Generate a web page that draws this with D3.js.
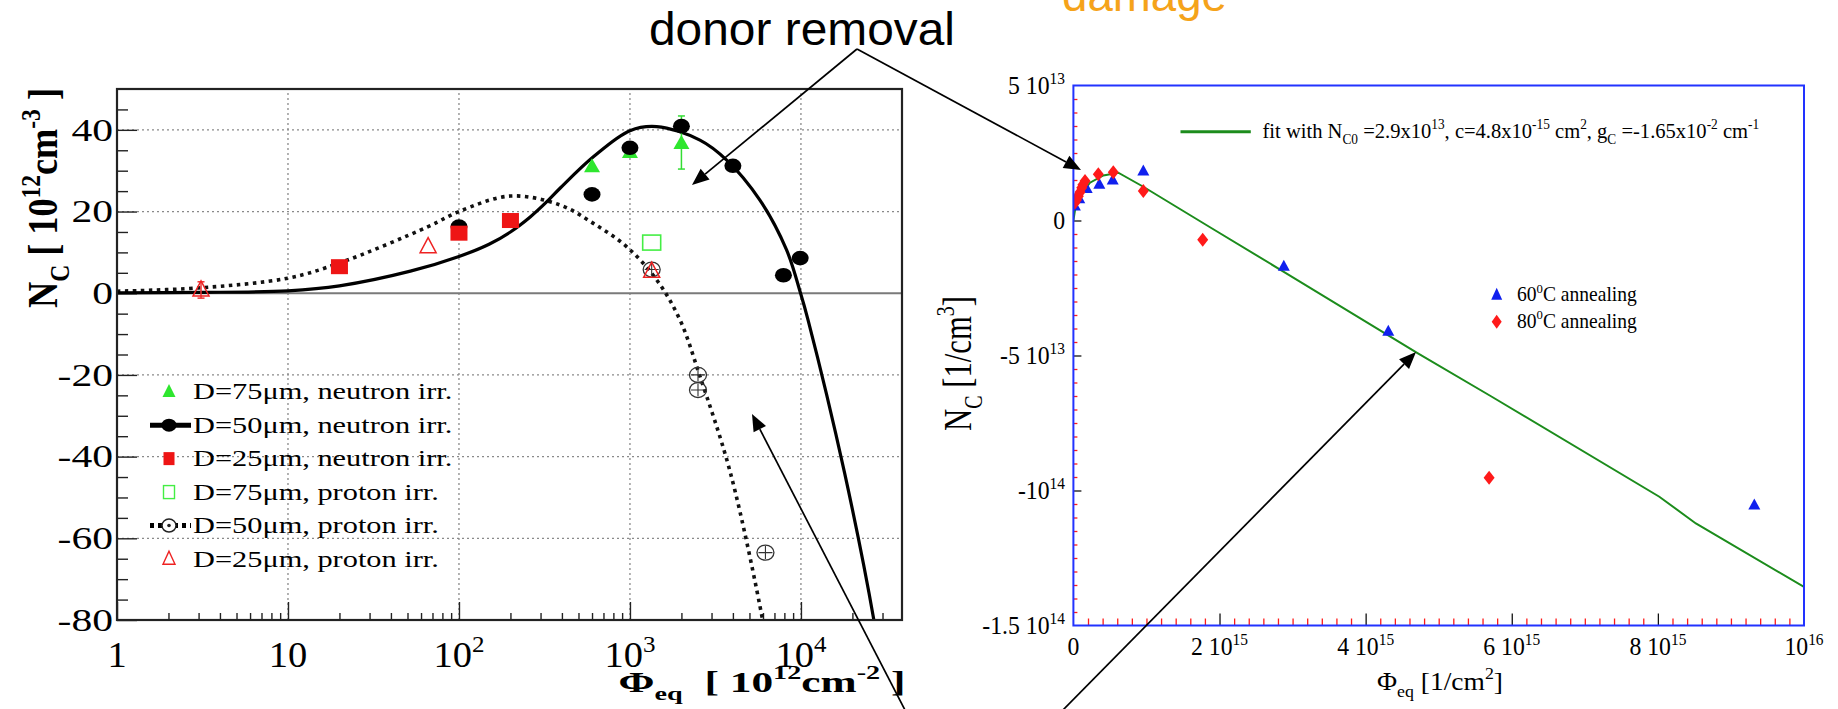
<!DOCTYPE html>
<html>
<head>
<meta charset="utf-8">
<script src="https://cdn.jsdelivr.net/npm/d3@7"></script>
<style>
  html,body{margin:0;padding:0;background:#fff;}
  svg{display:block;}
  text{white-space:pre;}
</style>
</head>
<body>
<div id="fig"></div>
<script>
// two panels: N_C vs fluence, log axis on the left, linear on the right

const SERIF = "'Liberation Serif','Times New Roman',serif";
const SANS  = "'Liberation Sans',Arial,sans-serif";

// ---- left panel: N_C [10^12 cm^-3] vs Phi_eq [10^12 cm^-2]
const LX_TICKS = [1, 10, 100, 1000, 10000];
const LX_BASE  = ["1", "10", "10", "10", "10"];
const LX_EXP   = ["", "", "2", "3", "4"];
const LY_TICKS = [40, 20, 0, -20, -40, -60, -80];
const LY_LABELS = ["40", "20", "0", "-20", "-40", "-60", "-80"];

const N75 = [[600, 31.0], [1000, 34.5], [2000, 36.7]];
const N75_ERR = [[2000, 30.4, 43.4]];
const N50 = [[100, 16.3], [600, 24.2], [1000, 35.6], [2000, 40.9], [4000, 31.2], [7900, 4.4], [9900, 8.6]];
const N25 = [[20, 6.5], [100, 14.7], [200, 17.8]];
const P75 = [[1340, 12.4]];
const P50 = [[1340, 5.8], [2500, -20.0], [2500, -23.7], [6200, -63.5]];
const P25 = [[3.1, 0.8], [66, 11.4], [1340, 5.4]];
const P25_ERR = [[3.1, -1.2, 2.8]];

const FIT_NEUTRON = [[1,0.1],[3,0.2],[10,0.6],[20,1.8],[52,5.4],[100,9.0],[150,12.0],[200,15.0],[260,18.6],
  [321,22.1],[390,25.7],[611,33.4],[1000,39.8],[1432,40.8],[2566,37.5],[3680,32.6],[5755,22.8],[8240,10.6],
  [9950,0],[11000,-6.5],[18000,-44],[26700,-80],[29000,-90]];
const FIT_PROTON = [[1,0.5],[3,1.3],[10,3.7],[20,7.4],[66,16.3],[100,20.0],[200,23.8],[390,21.6],[611,17.1],
  [955,11.4],[1432,3.3],[1960,-6.5],[2550,-20],[3870,-44],[5970,-80],[6400,-88]];

const LEGEND_L = ["D=75μm, neutron irr.", "D=50μm, neutron irr.", "D=25μm, neutron irr.",
                  "D=75μm, proton irr.", "D=50μm, proton irr.", "D=25μm, proton irr."];

// ---- right panel: N_C [1/cm^3] vs Phi_eq [1/cm^2]
const RX_TICKS = [0, 2e15, 4e15, 6e15, 8e15, 1e16];
const RX_BASE  = ["0", "2 10", "4 10", "6 10", "8 10", "10"];
const RX_EXP   = ["", "15", "15", "15", "15", "16"];
const RY_TICKS = [5e13, 0, -5e13, -1e14, -1.5e14];
const RY_BASE  = ["5 10", "0", "-5 10", "-10", "-1.5 10"];
const RY_EXP   = ["13", "", "13", "14", "14"];

const ANN60 = [[2e13,5.3e12],[8e13,8.0e12],[1.82e14,1.18e13],[3.55e14,1.34e13],[5.38e14,1.5e13],
  [9.57e14,1.83e13],[2.88e15,-1.70e13],[4.31e15,-4.11e13],[9.32e15,-1.054e14]];
const ANN80 = [[2e13,6.6e12],[4e13,7.6e12],[6.7e13,9.0e12],[9e13,1.05e13],[1.14e14,1.21e13],[1.3e14,1.32e13],
  [1.59e14,1.46e13],[3.41e14,1.71e13],[5.46e14,1.79e13],[9.57e14,1.09e13],[1.77e15,-7.1e12],[5.69e15,-9.53e13]];
const FIT_R = [[0,0],[2e13,3.5e12],[6.7e13,7.8e12],[1.4e14,1.1e13],[2.27e14,1.4e13],[4.1e14,1.67e13],
  [6.15e14,1.77e13],[9.57e14,1.25e13],[1.87e15,-2.5e12],[2.88e15,-1.9e13],[4.71e15,-4.91e13],
  [5.71e15,-6.5e13],[8.02e15,-1.023e14],[8.52e15,-1.122e14],[1e16,-1.357e14]];

const LEGEND_R = ["60", "80"];

// ---------------------------------------------------------------
const svg = d3.select("#fig").append("svg").attr("width", 1838).attr("height", 709);
const defs = svg.append("defs");

// text with sub/superscript parts
function rich(g, parts, size, opts) {
  opts = opts || {};
  const t = g.append("text").attr("text-anchor", opts.anchor || "start")
    .style("font-family", opts.family || SERIF).style("font-size", size + "px")
    .attr("fill", opts.fill || "#000");
  if (opts.weight) t.style("font-weight", opts.weight);
  let shift = 0;
  parts.forEach(p => {
    const [str, kind] = Array.isArray(p) ? p : [p, ""];
    const sp = t.append("tspan").text(str);
    const target = kind === "sup" ? -size * 0.42 : kind === "sub" ? size * 0.28 : 0;
    if (kind) sp.style("font-size", (size * 0.65) + "px");
    if (target !== shift) sp.attr("dy", target - shift);
    shift = target;
  });
  return t;
}
function place(t, x, y, sx, sy, rot) {
  t.attr("transform", `translate(${x},${y})${rot ? ` rotate(${rot})` : ""} scale(${sx},${sy || 1})`);
  return t;
}
const widthOf = t => t.node().getBBox().width;

const triPath  = (w, h) => `M0,${-h * 0.6}L${w / 2},${h * 0.4}L${-w / 2},${h * 0.4}Z`;
const diaPath  = (w, h) => `M0,${-h / 2}L${w / 2},0L0,${h / 2}L${-w / 2},0Z`;

// ================= LEFT PANEL =================
const lx = d3.scaleLog().domain([1, 3.9e4]).range([117, 902]);
const ly = d3.scaleLinear().domain([-80, 50]).range([620, 89]);
const L = svg.append("g");

defs.append("clipPath").attr("id", "clipL").append("rect")
  .attr("x", lx.range()[0]).attr("y", ly.range()[1])
  .attr("width", lx.range()[1] - lx.range()[0]).attr("height", ly.range()[0] - ly.range()[1]);

// grid
L.append("g").selectAll("line").data(LX_TICKS.slice(1)).join("line")
  .attr("x1", d => lx(d)).attr("x2", d => lx(d)).attr("y1", ly(-80)).attr("y2", ly(50))
  .attr("stroke", "#8a8a8a").attr("stroke-width", 1.3).attr("stroke-dasharray", "2,3");
L.append("g").selectAll("line").data(LY_TICKS.filter(d => d !== 0 && d !== -80)).join("line")
  .attr("x1", lx(1)).attr("x2", lx(3.9e4)).attr("y1", d => ly(d)).attr("y2", d => ly(d))
  .attr("stroke", "#8a8a8a").attr("stroke-width", 1.3).attr("stroke-dasharray", "2,3");
L.append("line").attr("x1", lx(1)).attr("x2", lx(3.9e4)).attr("y1", ly(0)).attr("y2", ly(0))
  .attr("stroke", "#7a7a7a").attr("stroke-width", 2);

// ticks
const minorX = [];
LX_TICKS.forEach(d => { for (let m = 2; m < 10; m++) if (d * m < 3.9e4) minorX.push(d * m); });
const tickStyle = s => s.call(a => a.select(".domain").remove())
  .call(a => a.selectAll("line").attr("stroke", "#222").attr("stroke-width", 1.4));
L.append("g").attr("transform", `translate(0,${ly(-80)})`)
  .call(d3.axisBottom(lx).tickValues(minorX).tickSize(-7).tickFormat("")).call(tickStyle);
L.append("g").attr("transform", `translate(0,${ly(-80)})`)
  .call(d3.axisBottom(lx).tickValues(LX_TICKS).tickSize(-18).tickFormat("")).call(tickStyle);
const minorY = d3.range(-75, 50, 5).filter(d => d % 20 !== 0);
L.append("g").attr("transform", `translate(${lx(1)},0)`)
  .call(d3.axisLeft(ly).tickValues(minorY).tickSize(-11).tickFormat("")).call(tickStyle);
L.append("g").attr("transform", `translate(${lx(1)},0)`)
  .call(d3.axisLeft(ly).tickValues(LY_TICKS).tickSize(-20).tickFormat("")).call(tickStyle);

// tick labels
LX_TICKS.forEach((v, i) => {
  const parts = LX_EXP[i] ? [LX_BASE[i], [LX_EXP[i], "sup"]] : [LX_BASE[i]];
  place(rich(L, parts, 35, { anchor: "middle" }), lx(v), 667, 1.1);
});
LY_TICKS.forEach((v, i) => {
  place(rich(L, [LY_LABELS[i]], 32, { anchor: "end" }), 113, ly(v) + 10.8, 1.3);
});

// axis titles
const lxt = rich(L, ["Φ", ["eq", "sub"], "  [ 10", ["12", "sup"], "cm", ["-2", "sup"], " ]"], 30,
  { anchor: "middle", weight: "bold" });
place(lxt, 762, 692, 287 / widthOf(lxt));
const lyt = rich(L, ["N", ["C", "sub"], " [ 10", ["12", "sup"], "cm", ["-3", "sup"], " ]"], 32,
  { anchor: "middle", weight: "bold" });
place(lyt, 57, 198, 220 / widthOf(lyt), 1.3, -90);

// fit curves
const lline = d3.line().x(d => lx(d[0])).y(d => ly(d[1])).curve(d3.curveCatmullRom.alpha(0.5));
const LC = L.append("g").attr("clip-path", "url(#clipL)");
LC.append("path").datum(FIT_PROTON).attr("d", lline).attr("fill", "none")
  .attr("stroke", "#111").attr("stroke-width", 3.6).attr("stroke-dasharray", "3.5,4.5");
LC.append("path").datum(FIT_NEUTRON).attr("d", lline).attr("fill", "none")
  .attr("stroke", "#000").attr("stroke-width", 3.2);

// error bars
function errBars(g, data, color) {
  data.forEach(([x, lo, hi]) => {
    g.append("line").attr("x1", lx(x)).attr("x2", lx(x)).attr("y1", ly(lo)).attr("y2", ly(hi))
      .attr("stroke", color).attr("stroke-width", 1.5);
    [lo, hi].forEach(v => g.append("line").attr("x1", lx(x) - 3.5).attr("x2", lx(x) + 3.5)
      .attr("y1", ly(v)).attr("y2", ly(v)).attr("stroke", color).attr("stroke-width", 1.5));
  });
}
errBars(LC, N75_ERR, "#33dd33");
errBars(LC, P25_ERR, "#ee3333");

// markers
const GREEN = "#2ee62e", RED = "#ee1515";
LC.selectAll("path.n75").data(N75).join("path").attr("class", "n75")
  .attr("transform", d => `translate(${lx(d[0])},${ly(d[1])})`).attr("d", triPath(16, 14)).attr("fill", GREEN);
LC.selectAll("ellipse.n50").data(N50).join("ellipse").attr("class", "n50")
  .attr("cx", d => lx(d[0])).attr("cy", d => ly(d[1])).attr("rx", 8.5).attr("ry", 7.3).attr("fill", "#000");
LC.selectAll("rect.n25").data(N25).join("rect").attr("class", "n25")
  .attr("x", d => lx(d[0]) - 8.5).attr("y", d => ly(d[1]) - 7.5).attr("width", 17).attr("height", 15).attr("fill", RED);
LC.selectAll("rect.p75").data(P75).join("rect").attr("class", "p75")
  .attr("x", d => lx(d[0]) - 9).attr("y", d => ly(d[1]) - 7.5).attr("width", 18).attr("height", 15)
  .attr("fill", "none").attr("stroke", "#44ee44").attr("stroke-width", 1.6);
const p50g = LC.selectAll("g.p50").data(P50).join("g").attr("class", "p50")
  .attr("transform", d => `translate(${lx(d[0])},${ly(d[1])})`);
p50g.append("ellipse").attr("rx", 8.5).attr("ry", 7.5).attr("fill", "none").attr("stroke", "#333").attr("stroke-width", 1.3);
p50g.append("path").attr("d", "M-7,0H7M0,-6.5V6.5").attr("stroke", "#333").attr("stroke-width", 1.1);
LC.selectAll("path.p25").data(P25).join("path").attr("class", "p25")
  .attr("transform", d => `translate(${lx(d[0])},${ly(d[1])})`).attr("d", triPath(16, 15))
  .attr("fill", "none").attr("stroke", "#ee2222").attr("stroke-width", 1.5);

// legend
const legY = d3.scaleLinear().domain([0, 5]).range([391.7, 559]);
const LG = L.append("g");
LEGEND_L.forEach((s, i) => {
  place(rich(LG, [s], 23), 193, legY(i) + 7.5, 1.32);
});
const lk = 169;
LG.append("path").attr("transform", `translate(${lk},${legY(0)})`).attr("d", triPath(13, 13)).attr("fill", GREEN);
LG.append("line").attr("x1", 150).attr("x2", 191).attr("y1", legY(1)).attr("y2", legY(1)).attr("stroke", "#000").attr("stroke-width", 5);
LG.append("ellipse").attr("cx", lk).attr("cy", legY(1)).attr("rx", 7.5).attr("ry", 6.5).attr("fill", "#000");
LG.append("rect").attr("x", lk - 5.5).attr("y", legY(2) - 6.5).attr("width", 11).attr("height", 13).attr("fill", RED);
LG.append("rect").attr("x", lk - 5.5).attr("y", legY(3) - 6.5).attr("width", 11).attr("height", 13)
  .attr("fill", "none").attr("stroke", "#44ee44").attr("stroke-width", 1.4);
LG.append("line").attr("x1", 150).attr("x2", 191).attr("y1", legY(4)).attr("y2", legY(4))
  .attr("stroke", "#000").attr("stroke-width", 5).attr("stroke-dasharray", "4,4");
LG.append("ellipse").attr("cx", lk).attr("cy", legY(4)).attr("rx", 7).attr("ry", 6.5)
  .attr("fill", "#fff").attr("stroke", "#222").attr("stroke-width", 1.5);
LG.append("circle").attr("cx", lk).attr("cy", legY(4)).attr("r", 1.8).attr("fill", "#222");
LG.append("path").attr("transform", `translate(${lk},${legY(5)})`).attr("d", triPath(12, 13))
  .attr("fill", "none").attr("stroke", "#ee2222").attr("stroke-width", 1.4);

// frame
L.append("rect").attr("x", lx(1)).attr("y", ly(50)).attr("width", lx(3.9e4) - lx(1)).attr("height", ly(-80) - ly(50))
  .attr("fill", "none").attr("stroke", "#222").attr("stroke-width", 2.2);

// ================= RIGHT PANEL =================
const rx = d3.scaleLinear().domain([0, 1e16]).range([1073.4, 1804]);
const ry = d3.scaleLinear().domain([-1.5e14, 5e13]).range([625.5, 85.5]);
const R = svg.append("g");

defs.append("clipPath").attr("id", "clipR").append("rect")
  .attr("x", rx.range()[0]).attr("y", ry.range()[1])
  .attr("width", rx.range()[1] - rx.range()[0]).attr("height", ry.range()[0] - ry.range()[1]);

// minor red ticks
const rMinorX = d3.range(2e14, 1e16, 2e14).filter(d => Math.abs(d / 2e15 - Math.round(d / 2e15)) > 1e-6);
const rMinorY = d3.range(-1.45e14, 5e13, 5e12).filter(d => Math.abs(d / 5e13 - Math.round(d / 5e13)) > 1e-6);
const redTicks = s => s.call(a => a.select(".domain").remove())
  .call(a => a.selectAll("line").attr("stroke", "#ff1a1a").attr("stroke-width", 1.3));
const blackTicks = s => s.call(a => a.select(".domain").remove())
  .call(a => a.selectAll("line").attr("stroke", "#111").attr("stroke-width", 1.3));
R.append("g").attr("transform", `translate(0,${ry(-1.5e14)})`)
  .call(d3.axisBottom(rx).tickValues(rMinorX).tickSize(-7).tickFormat("")).call(redTicks);
R.append("g").attr("transform", `translate(0,${ry(-1.5e14)})`)
  .call(d3.axisBottom(rx).tickValues(RX_TICKS.slice(1, -1)).tickSize(-12).tickFormat("")).call(blackTicks);
R.append("g").attr("transform", `translate(${rx(0)},0)`)
  .call(d3.axisLeft(ry).tickValues(rMinorY).tickSize(-4).tickFormat("")).call(redTicks);
R.append("g").attr("transform", `translate(${rx(0)},0)`)
  .call(d3.axisLeft(ry).tickValues(RY_TICKS.slice(1, -1)).tickSize(-8).tickFormat("")).call(blackTicks);

// tick labels
RX_TICKS.forEach((v, i) => {
  const parts = RX_EXP[i] ? [RX_BASE[i], [RX_EXP[i], "sup"]] : [RX_BASE[i]];
  place(rich(R, parts, 25, { anchor: "middle" }), rx(v), 655, 0.95);
});
RY_TICKS.forEach((v, i) => {
  const parts = RY_EXP[i] ? [RY_BASE[i], [RY_EXP[i], "sup"]] : [RY_BASE[i]];
  place(rich(R, parts, 25, { anchor: "end" }), 1065, ry(v) + 8.5, 0.95);
});

// axis titles
const rxt = rich(R, ["Φ", ["eq", "sub"], " [1/cm", ["2", "sup"], "]"], 26, { anchor: "middle" });
place(rxt, 1440, 690, 126 / widthOf(rxt));
const ryt = rich(R, ["N", ["C", "sub"], " [1/cm", ["3", "sup"], "]"], 30, { anchor: "middle" });
place(ryt, 971, 363.5, 135 / widthOf(ryt), 1.34, -90);

// fit line + data
const RC = R.append("g").attr("clip-path", "url(#clipR)");
const rline = d3.line().x(d => rx(d[0])).y(d => ry(d[1]));
RC.append("path").datum(FIT_R).attr("d", rline).attr("fill", "none")
  .attr("stroke", "#1c8c1c").attr("stroke-width", 2);
const BLUE = "#1020ee", RDIA = "#ff1a1a";
RC.selectAll("path.a60").data(ANN60).join("path").attr("class", "a60")
  .attr("transform", d => `translate(${rx(d[0])},${ry(d[1])})`).attr("d", triPath(12, 11)).attr("fill", BLUE);
RC.selectAll("path.a80").data(ANN80).join("path").attr("class", "a80")
  .attr("transform", d => `translate(${rx(d[0])},${ry(d[1])})`).attr("d", diaPath(11, 14)).attr("fill", RDIA);

// legends
R.append("line").attr("x1", 1180.5).attr("x2", 1250.8).attr("y1", 131.7).attr("y2", 131.7)
  .attr("stroke", "#1c8c1c").attr("stroke-width", 3);
const fitTxt = rich(R, ["fit with N", ["C0", "sub"], " =2.9x10", ["13", "sup"], ", c=4.8x10", ["-15", "sup"], " cm", ["2", "sup"],
  ", g", ["C", "sub"], " =-1.65x10", ["-2", "sup"], " cm", ["-1", "sup"]], 21);
place(fitTxt, 1262.5, 138, 497 / widthOf(fitTxt));

R.append("path").attr("transform", `translate(1496.7,295)`).attr("d", triPath(11, 12)).attr("fill", BLUE);
R.append("path").attr("transform", `translate(1496.7,321.7)`).attr("d", diaPath(10, 14)).attr("fill", RDIA);
LEGEND_R.forEach((s, i) => {
  const t = rich(R, [s, ["0", "sup"], "C annealing"], 20);
  place(t, 1517, 301 + i * 26.7, 120 / widthOf(t));
});

// frame
R.append("rect").attr("x", rx(0)).attr("y", ry(5e13)).attr("width", rx(1e16) - rx(0)).attr("height", ry(-1.5e14) - ry(5e13))
  .attr("fill", "none").attr("stroke", "#2233ff").attr("stroke-width", 2);

// ================= ANNOTATIONS =================
const A = svg.append("g");
const dr = rich(A, ["donor removal"], 46, { family: SANS });
place(dr, 649, 45, 306 / widthOf(dr));
const dm = rich(A, ["damage"], 46, { family: SANS, fill: "#f5a31a" });
place(dm, 1062, 11, 165 / widthOf(dm));

const ARROWS = [
  [[857, 49], [692, 185]],
  [[857, 49], [1081, 170]],
  [[906, 712], [752, 414]],
  [[1061, 712], [1416, 352]]
];
ARROWS.forEach(([a, b]) => {
  const dx = b[0] - a[0], dy = b[1] - a[1], len = Math.hypot(dx, dy);
  const ux = dx / len, uy = dy / len, hl = 17, hw = 7;
  const bx = b[0] - ux * hl, by = b[1] - uy * hl;
  A.append("line").attr("x1", a[0]).attr("y1", a[1]).attr("x2", bx).attr("y2", by)
    .attr("stroke", "#000").attr("stroke-width", 1.7);
  A.append("path").attr("d", `M${b[0]},${b[1]}L${bx - uy * hw},${by + ux * hw}L${bx + uy * hw},${by - ux * hw}Z`)
    .attr("fill", "#000");
});
</script>
</body>
</html>
